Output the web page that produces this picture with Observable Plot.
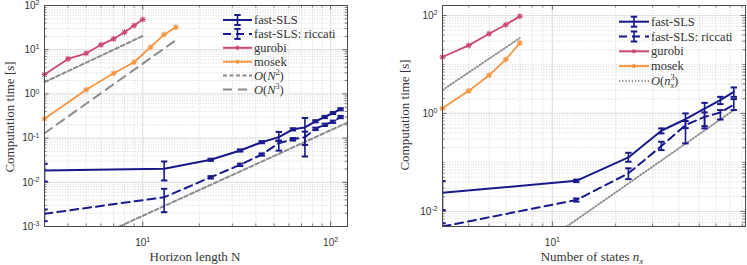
<!DOCTYPE html>
<html><head><meta charset="utf-8">
<script src="https://cdn.jsdelivr.net/npm/d3@7"></script>
<script src="https://cdn.jsdelivr.net/npm/@observablehq/plot@0.6"></script>
<style>
body{margin:0;background:#fff;}
#wrap{position:relative;width:747px;height:265px;overflow:hidden;background:#fff;}
.panel{position:absolute;top:0;}
#overlay{position:absolute;left:0;top:0;pointer-events:none;}
#overlay text{font-family:"Liberation Serif","Times New Roman",serif;}
</style></head>
<body><div id="wrap"></div>
<script>
// ---------- Left panel: computation time vs horizon length N ----------
const N_sls      = [3, 13, 23, 33, 43, 53, 63, 73, 83, 93, 103, 113];
const t_sls      = [0.0185, 0.0202, 0.0323, 0.0524, 0.0807, 0.105, 0.158, 0.174, 0.24, 0.30, 0.37, 0.45];
const t_sls_lo   = [0.0104, 0.011, 0.0305, 0.0495, 0.0765, 0.085, 0.149, 0.0384, 0.227, 0.283, 0.35, 0.425];
const t_sls_hi   = [0.0262, 0.0296, 0.0342, 0.0555, 0.0855, 0.138, 0.167, 0.285, 0.254, 0.318, 0.39, 0.475];
const t_ric      = [0.00194, 0.0046, 0.0130, 0.0249, 0.0425, 0.0767, 0.094, 0.105, 0.162, 0.20, 0.235, 0.30];
const t_ric_lo   = [0.00132, 0.00211, 0.0122, 0.0234, 0.040, 0.052, 0.088, 0.07, 0.152, 0.188, 0.221, 0.282];
const t_ric_hi   = [0.00243, 0.00713, 0.0138, 0.0264, 0.045, 0.088, 0.10, 0.14, 0.172, 0.212, 0.249, 0.318];
const N_gurobi   = [3, 4, 5, 6, 7, 8, 9, 10];
const t_gurobi   = [2.75, 6.2, 8.3, 12.9, 17.6, 24.9, 35.3, 48.2];
const N_mosek    = [3, 5, 7, 9, 11, 13, 15];
const t_mosek    = [0.273, 1.24, 2.94, 5.2, 11.4, 22.1, 32.3];
// reference slopes (end points)
const N_ref2a = [3, 10],   t_ref2a = [1.84, 20.4];
const N_ref3  = [3, 15],   t_ref3  = [0.129, 16.4];
const N_ref2b = [7.5, 123], t_ref2b = [0.001, 0.225];
const leftXTicks = [10, 100];
const leftYTicks = [1e-3, 1e-2, 1e-1, 1e0, 1e1, 1e2];

// ---------- Right panel: computation time vs number of states n_x ----------
const nx_sls     = [3, 13, 23, 33, 43, 53, 63, 73];
const r_sls      = [0.024, 0.042, 0.126, 0.442, 0.76, 1.25, 1.87, 2.76];
const r_sls_lo   = [0.0106, 0.0395, 0.103, 0.391, 0.5, 0.494, 1.55, 2.18];
const r_sls_hi   = [0.0415, 0.0445, 0.157, 0.494, 1.0, 1.64, 2.18, 3.39];
const r_ric      = [0.0049, 0.017, 0.0597, 0.215, 0.577, 0.85, 1.04, 1.5];
const r_ric_lo   = [0.003, 0.0158, 0.0455, 0.178, 0.244, 0.55, 0.75, 1.17];
const r_ric_hi   = [0.0057, 0.0183, 0.0755, 0.264, 0.7, 1.05, 1.17, 1.96];
const nx_solver  = [3, 4, 5, 6, 7];
const r_gurobi   = [14.2, 24.5, 42.5, 64.7, 96.8];
const r_mosek    = [1.27, 2.89, 6.03, 12.6, 27.4];
const nx_ref3a = [3, 7],     r_ref3a = [3.0, 34.6];
const nx_ref3b = [11.7, 73], r_ref3b = [0.0049, 1.17];
const rightXTicks = [10];
const rightYTicks = [1e-2, 1e0, 1e2];

// ---------- styling ----------
const NAVY = "#1a198c", PINK = "#cc4778", ORANGE = "#f89540", GRAY = "#8c8c8c", AX = "#4a4a4a";
const SERIF = "Liberation Serif";
const zip = (xs, ys, lo, hi) => xs.map((x, i) => ({x, y: ys[i], lo: lo ? lo[i] : null, hi: hi ? hi[i] : null}));
const capSym = {draw(ctx, size){ const r = Math.sqrt(size / Math.PI); ctx.moveTo(-r, 0); ctx.lineTo(r, 0); }};
const starSym = {draw(ctx, size){ const r = Math.sqrt(size / Math.PI); const d = r * 0.72;
  ctx.moveTo(-r, 0); ctx.lineTo(r, 0); ctx.moveTo(0, -r); ctx.lineTo(0, r);
  ctx.moveTo(-d, -d); ctx.lineTo(d, d); ctx.moveTo(-d, d); ctx.lineTo(d, -d); }};

function logMinors(lo, hi, majors){
  const out = [];
  for (let k = Math.floor(Math.log10(lo)) - 1; k <= Math.ceil(Math.log10(hi)); k++){
    for (let m = 1; m <= 9; m++){
      const v = m * Math.pow(10, k);
      if (v > lo * 1.0001 && v < hi / 1.0001 && !majors.some(t => Math.abs(t / v - 1) < 1e-6)) out.push(v);
    }
  }
  return out;
}

function errMarks(data, color, dash){
  return [
    Plot.line(data, {x: "x", y: "y", stroke: color, strokeWidth: 2, strokeDasharray: dash, clip: true}),
    Plot.ruleX(data, {x: "x", y1: "lo", y2: "hi", stroke: color, strokeWidth: 1.6, clip: true}),
    Plot.dot(data, {x: "x", y: "lo", symbol: capSym, r: 3.2, stroke: color, strokeWidth: 2, fill: "none", clip: true}),
    Plot.dot(data, {x: "x", y: "hi", symbol: capSym, r: 3.2, stroke: color, strokeWidth: 2, fill: "none", clip: true})
  ];
}
function solverMarks(data, color){
  return [
    Plot.line(data, {x: "x", y: "y", stroke: color, strokeWidth: 1.8}),
    Plot.dot(data, {x: "x", y: "y", symbol: starSym, r: 3, stroke: color, strokeWidth: 1.1, fill: "none"})
  ];
}

function panel({width, ml, mr, xDom, yDom, xTicks, yTicks, series}){
  const mt = 5, mb = 39, height = 265;
  const iw = width - ml - mr, ih = height - mt - mb;
  const xMin = logMinors(xDom[0], xDom[1], xTicks);
  const yMin = logMinors(yDom[0], yDom[1], yTicks);
  const fmt = d => "10^" + Math.round(Math.log10(d));
  const svg = Plot.plot({
    width, height, marginLeft: ml, marginRight: mr, marginTop: mt, marginBottom: mb,
    x: {type: "log", domain: xDom},
    y: {type: "log", domain: yDom},
    style: {fontFamily: "'Liberation Sans', Arial, sans-serif", fontSize: "10px", color: "#333", background: "transparent", overflow: "visible"},
    marks: [
      Plot.ruleX(xMin, {stroke: "#c8c8c8", strokeWidth: 0.7, strokeDasharray: "1,1.6"}),
      Plot.ruleY(yMin, {stroke: "#c8c8c8", strokeWidth: 0.7, strokeDasharray: "1,1.6"}),
      Plot.ruleX(xTicks, {stroke: "#e2e2e2", strokeWidth: 1.2}),
      Plot.ruleY(yTicks, {stroke: "#e2e2e2", strokeWidth: 1.2}),
      // inward tick marks on all four sides
      Plot.ruleX(xMin, {stroke: AX, strokeWidth: 0.7, insetTop: ih - 2.5}),
      Plot.ruleX(xMin, {stroke: AX, strokeWidth: 0.7, insetBottom: ih - 2.5}),
      Plot.ruleX(xTicks, {stroke: AX, strokeWidth: 0.8, insetTop: ih - 4.5}),
      Plot.ruleX(xTicks, {stroke: AX, strokeWidth: 0.8, insetBottom: ih - 4.5}),
      Plot.ruleY(yMin, {stroke: AX, strokeWidth: 0.7, insetRight: iw - 2.5}),
      Plot.ruleY(yMin, {stroke: AX, strokeWidth: 0.7, insetLeft: iw - 2.5}),
      Plot.ruleY(yTicks, {stroke: AX, strokeWidth: 0.8, insetRight: iw - 4.5}),
      Plot.ruleY(yTicks, {stroke: AX, strokeWidth: 0.8, insetLeft: iw - 4.5}),
      Plot.axisX(xTicks, {tickSize: 0, tickPadding: 12, tickFormat: fmt, label: null}),
      Plot.axisY(yTicks, {tickSize: 0, tickPadding: 5, tickFormat: fmt, label: null}),
      ...series,
      Plot.frame({stroke: AX, strokeWidth: 1})
    ]
  });
  // render exponents as superscripts
  svg.querySelectorAll('g[aria-label$="tick label"] text').forEach(t => {
    const m = /^10\^(-?\d+)$/.exec(t.textContent);
    if (!m) return;
    t.textContent = "10";
    const ts = document.createElementNS("http://www.w3.org/2000/svg", "tspan");
    ts.setAttribute("dy", "-0.5em"); ts.setAttribute("font-size", "7px");
    ts.textContent = m[1];
    t.appendChild(ts);
  });
  return svg;
}

const left = panel({
  width: 373, ml: 44, mr: 26, xDom: [3, 123], yDom: [1e-3, 1e2],
  xTicks: leftXTicks, yTicks: leftYTicks,
  series: [
    Plot.line(zip(N_ref2b, t_ref2b), {x: "x", y: "y", stroke: GRAY, strokeWidth: 2, strokeDasharray: "4,2.5", clip: true}),
    Plot.line(zip(N_ref2a, t_ref2a), {x: "x", y: "y", stroke: GRAY, strokeWidth: 2, strokeDasharray: "4,2.5"}),
    Plot.line(zip(N_ref3, t_ref3), {x: "x", y: "y", stroke: GRAY, strokeWidth: 2, strokeDasharray: "9,6"}),
    ...solverMarks(zip(N_gurobi, t_gurobi), PINK),
    ...solverMarks(zip(N_mosek, t_mosek), ORANGE),
    ...errMarks(zip(N_sls, t_ric, t_ric_lo, t_ric_hi), NAVY, "8,5"),
    ...errMarks(zip(N_sls, t_sls, t_sls_lo, t_sls_hi), NAVY, null)
  ]
});
const right = panel({
  width: 374, ml: 69, mr: 2, xDom: [3, 83], yDom: [0.0049, 160],
  xTicks: rightXTicks, yTicks: rightYTicks,
  series: [
    Plot.line(zip(nx_ref3b, r_ref3b), {x: "x", y: "y", stroke: GRAY, strokeWidth: 1.8, strokeDasharray: "1.2,2", clip: true}),
    Plot.line(zip(nx_ref3a, r_ref3a), {x: "x", y: "y", stroke: GRAY, strokeWidth: 1.8, strokeDasharray: "1.2,2"}),
    ...solverMarks(zip(nx_solver, r_gurobi), PINK),
    ...solverMarks(zip(nx_solver, r_mosek), ORANGE),
    ...errMarks(zip(nx_sls, r_ric, r_ric_lo, r_ric_hi), NAVY, "8,5"),
    ...errMarks(zip(nx_sls, r_sls, r_sls_lo, r_sls_hi), NAVY, null)
  ]
});
const wrap = document.getElementById("wrap");
left.classList.add("panel"); left.style.left = "0px";
right.classList.add("panel"); right.style.left = "373px";
wrap.appendChild(left); wrap.appendChild(right);

// ---------- overlay: axis titles and legends ----------
const ov = d3.select(wrap).append("svg").attr("id", "overlay").attr("width", 747).attr("height", 265);

function richText(g, parts, attrs){
  const t = g.append("text").attr("font-family", SERIF).attr("fill", "#333");
  Object.entries(attrs).forEach(([k, v]) => t.attr(k, v));
  parts.forEach(p => {
    const s = t.append("tspan").text(p.t);
    if (p.i) s.attr("font-style", "italic");
    if (p.dy) s.attr("dy", p.dy);
    if (p.fs) s.attr("font-size", p.fs);
    if (p.dx) s.attr("dx", p.dx);
  });
  return t;
}
// axis titles
richText(ov, [{t: "Horizon length N"}], {x: 195, y: 261, "text-anchor": "middle", "font-size": 13});
richText(ov, [{t: "Number of states "}, {t: "n", i: true}, {t: "x", i: true, dy: 3, fs: 9}], {x: 592, y: 261, "text-anchor": "middle", "font-size": 13});
richText(ov, [{t: "Computation time [s]"}], {transform: "translate(14,117) rotate(-90)", "text-anchor": "middle", "font-size": 13});
richText(ov, [{t: "Computation time [s]"}], {transform: "translate(409,115) rotate(-90)", "text-anchor": "middle", "font-size": 13});

// legend entries
const legLeft = [
  {label: [{t: "fast-SLS"}], c: NAVY, kind: "err", dash: null},
  {label: [{t: "fast-SLS: riccati"}], c: NAVY, kind: "err", dash: "8,5"},
  {label: [{t: "gurobi"}], c: PINK, kind: "solver"},
  {label: [{t: "mosek"}], c: ORANGE, kind: "solver"},
  {label: [{t: "O", i: true}, {t: "("}, {t: "N", i: true}, {t: "2", dy: -5, fs: 8}, {t: ")", dy: 5}], c: GRAY, kind: "ref", dash: "4,2.5"},
  {label: [{t: "O", i: true}, {t: "("}, {t: "N", i: true}, {t: "3", dy: -5, fs: 8}, {t: ")", dy: 5}], c: GRAY, kind: "ref", dash: "9,6"}
];
const legRight = [
  {label: [{t: "fast-SLS"}], c: NAVY, kind: "err", dash: null},
  {label: [{t: "fast-SLS: riccati"}], c: NAVY, kind: "err", dash: "8,5"},
  {label: [{t: "gurobi"}], c: PINK, kind: "solver"},
  {label: [{t: "mosek"}], c: ORANGE, kind: "solver"},
  {label: [{t: "O", i: true}, {t: "("}, {t: "n", i: true}, {t: "3", dy: -5, fs: 8}, {t: "x", i: true, dx: -4, dy: 8, fs: 8}, {t: ")", dy: -3}], c: GRAY, kind: "ref", dash: "1.2,2"}
];
function legend(items, x0, x1, y0, step){
  items.forEach((it, i) => {
    const y = y0 + i * step, g = ov.append("g");
    g.append("line").attr("x1", x0).attr("x2", x1).attr("y1", y).attr("y2", y)
      .attr("stroke", it.c).attr("stroke-width", 2).attr("stroke-dasharray", it.dash || null);
    const xm = (x0 + x1) / 2;
    if (it.kind === "err"){
      g.append("line").attr("x1", xm).attr("x2", xm).attr("y1", y - 5).attr("y2", y + 5).attr("stroke", it.c).attr("stroke-width", 1.6);
      [-5, 5].forEach(d => g.append("line").attr("x1", xm - 3.2).attr("x2", xm + 3.2).attr("y1", y + d).attr("y2", y + d).attr("stroke", it.c).attr("stroke-width", 2));
    } else if (it.kind === "solver"){
      g.append("path").attr("transform", `translate(${xm},${y})`).attr("d", d3.symbol(starSym, 2 * 2 * Math.PI)()).attr("stroke", it.c).attr("fill", "none").attr("stroke-width", 1.1);
    }
    richText(g, it.label, {x: x1 + 2, y: y + 4, "font-size": 12.5});
  });
}
legend(legLeft, 223, 252, 20, 13.9);
legend(legRight, 619, 649, 21.7, 14.8);
</script>
</body></html>
